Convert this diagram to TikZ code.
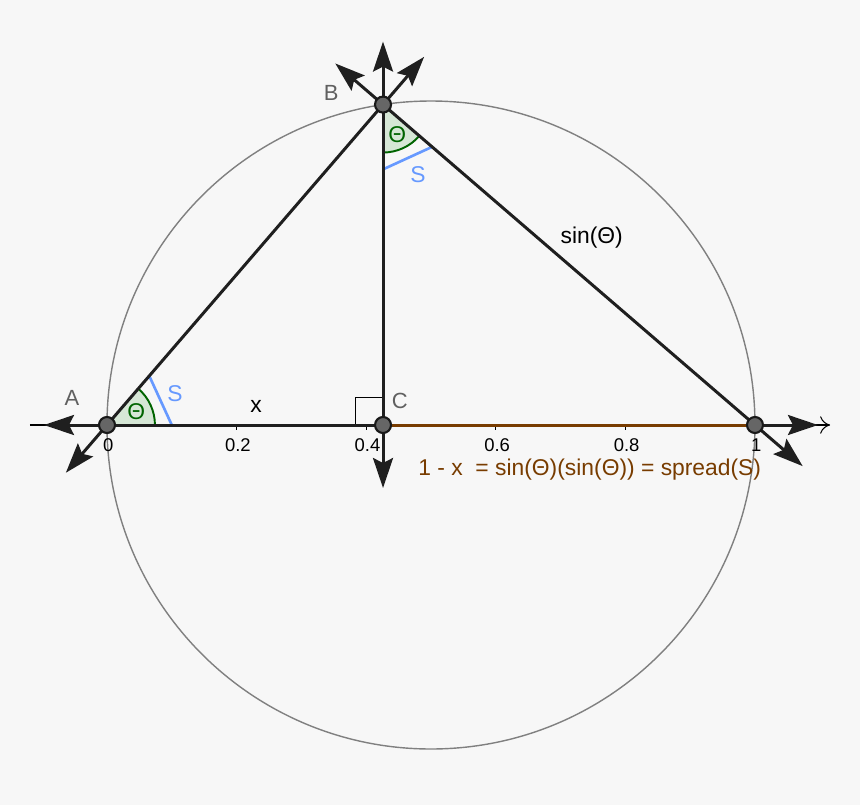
\documentclass[tikz,border=0pt]{standalone}
\usepackage{fontspec}
\setmainfont{Liberation Sans}
\usetikzlibrary{arrows.meta,calc}

\definecolor{bgcol}{RGB}{247,247,247}
\definecolor{labgray}{RGB}{96,96,96}
\definecolor{circgray}{RGB}{128,128,128}
\definecolor{sblue}{RGB}{102,153,255}
\definecolor{anggreen}{RGB}{0,100,0}
\definecolor{angfill}{RGB}{214,231,214}
\definecolor{spreadbrown}{RGB}{120,60,0}

\begin{document}
\begin{tikzpicture}[x=12.96cm, y=12.96cm,
    seg/.style={line width=1.7pt, draw=black!88},
    vec/.style={line width=1.7pt, draw=black!88, -{Stealth[length=0.6cm,width=0.4cm,inset=0.1cm]}},
    pt/.style={circle, draw=black!90, fill=black!60, line width=1.2pt, minimum size=0.32cm, inner sep=0pt},
    lab/.style={text=labgray, font=\fontsize{12.5}{14}\selectfont},
    txt/.style={font=\fontsize{13}{15}\selectfont},
    ticklab/.style={font=\fontsize{10.5}{12}\selectfont}]

    % Background and bounding box
    \fill[bgcol] (-0.1651,-0.5864) rectangle (1.1621,0.6559);

    % Points
    \coordinate (A) at (0,0);
    \coordinate (B) at (0.426,0.4945);
    \coordinate (C) at (0.426,0);
    \coordinate (D) at (1,0);
    \coordinate (O) at (0.5,0);

    % Circle through A, B and D
    \draw[circgray, line width=0.8pt] (O) circle (0.5);

    % Angle sectors
    \fill[angfill] (A) -- ++(0:0.074) arc[start angle=0, end angle=49.26, radius=0.074] -- cycle;
    \fill[angfill] (B) -- ++(-90:0.074) arc[start angle=-90, end angle=-40.74, radius=0.074] -- cycle;
    \draw[anggreen, line width=1.1pt] ($(A)+(0:0.074)$) arc[start angle=0, end angle=49.26, radius=0.074];
    \draw[anggreen, line width=1.1pt] ($(B)+(-90:0.074)$) arc[start angle=-90, end angle=-40.74, radius=0.074];

    % x axis with ticks
    \coordinate (ax0) at (-0.119,0);
    \coordinate (ax1) at (1.116,0);
    \draw[line width=0.6pt, -{To[length=0.2cm,width=0.35cm]}] (ax0) -- (ax1);
    \foreach \t/\n in {0/t0, 0.2/t2, 0.4/t4, 0.6/t6, 0.8/t8, 1/t10} {
        \draw[line width=0.6pt] (\t,0) -- (\t,-0.008);
        \node[ticklab] (\n) at (\t+0.002,-0.031) {\t};
    }

    % Spread S marks
    \draw[sblue, line width=1.5pt] ($(A)!1.296cm!(B)$) -- ($(A)!1.296cm!(D)$);
    \draw[sblue, line width=1.5pt] ($(B)!1.296cm!(C)$) -- ($(B)!1.296cm!(D)$);

    % Right angle at C
    \draw[line width=0.6pt] ($(C)+(-0.042,0)$) |- ($(C)+(0,0.042)$);

    % Triangle and altitude
    \draw[seg] (A) -- (C);
    \draw[seg, draw=spreadbrown] (C) -- (D);
    \draw[seg] (A) -- (B);
    \draw[seg] (B) -- (D);
    \draw[seg] (B) -- (C);

    % Vectors out of the points
    \coordinate (A1) at ($(A)!-1.26cm!(D)$);
    \coordinate (A2) at ($(A)!-1.26cm!(B)$);
    \coordinate (B1) at ($(B)!-1.26cm!(C)$);
    \coordinate (B2) at ($(B)!-1.26cm!(A)$);
    \coordinate (B3) at ($(B)!-1.26cm!(D)$);
    \coordinate (C1) at ($(C)!-1.26cm!(B)$);
    \coordinate (D1) at ($(D)!-1.26cm!(A)$);
    \coordinate (D2) at ($(D)!-1.26cm!(B)$);
    \foreach \p/\q in {A/A1, A/A2, B/B1, B/B2, B/B3, C/C1, D/D1, D/D2}
        \draw[vec] (\p) -- (\q);

    % Dots
    \node[pt] (pA) at (A) {};
    \node[pt] (pB) at (B) {};
    \node[pt] (pC) at (C) {};
    \node[pt] (pD) at (D) {};

    % Labels
    \node[lab] (la) at (-0.054,0.042) {A};
    \node[lab] (lb) at (0.346,0.512) {B};
    \node[lab] (lc) at (0.452,0.037) {C};
    \node[txt] (lx) at (0.230,0.029) {x};
    \node[txt] (lsin) at (0.748,0.289) {sin(Θ)};
    \node[txt, text=anggreen] (tha) at (0.045,0.020) {Θ};
    \node[txt, text=anggreen] (thb) at (0.448,0.448) {Θ};
    \node[txt, text=sblue] (sa) at (0.105,0.049) {S};
    \node[txt, text=sblue] (sb) at (0.480,0.386) {S};
    \node[txt, text=spreadbrown] (lspread) at (0.745,-0.069) {1 - x\ \ = sin(Θ)(sin(Θ)) = spread(S)};
\end{tikzpicture}
\end{document}
